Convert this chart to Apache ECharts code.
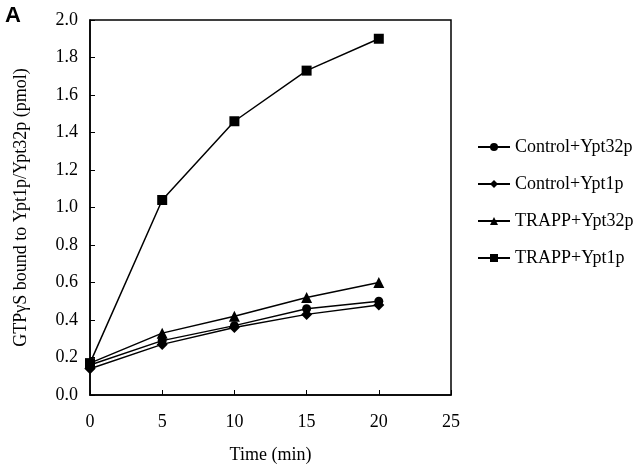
<!DOCTYPE html>
<html>
<head>
<meta charset="utf-8">
<script src="https://cdn.jsdelivr.net/npm/echarts@6/dist/echarts.min.js"></script>
<style>
  html, body { margin: 0; padding: 0; background: #fff; }
  #chart { width: 640px; height: 469px; }
</style>
</head>
<body>
<div id="chart"></div>
<script>
const times = [0, 5, 10, 15, 20];
const controlYpt32p = [0.16, 0.29, 0.37, 0.46, 0.50];
const controlYpt1p = [0.14, 0.27, 0.36, 0.43, 0.48];
const trappYpt32p = [0.17, 0.33, 0.42, 0.52, 0.60];
const trappYpt1p = [0.17, 1.04, 1.46, 1.73, 1.90];

const font = "Liberation Serif";

const pairs = (ys) => times.map((t, i) => [t, ys[i]]);

const makeSeries = (name, ys, symbol, size) => ({
  name,
  type: "line",
  data: pairs(ys),
  symbol,
  symbolSize: size,
  showSymbol: true,
  itemStyle: { color: "#000" },
  lineStyle: { color: "#000", width: 1.5 },
});

const chart = echarts.init(document.getElementById("chart"));
chart.setOption({
  animation: false,
  backgroundColor: "#fff",
  graphic: [
    {
      type: "text",
      left: 5,
      top: 5,
      style: { text: "A", font: "bold 22px 'Liberation Sans'", fill: "#000" },
    },
  ],
  grid: {
    left: 90,
    right: 189,
    top: 20,
    bottom: 71,
    show: true,
    borderColor: "#000",
    borderWidth: 1.5,
  },
  legend: {
    orient: "vertical",
    left: 472,
    top: 133,
    itemWidth: 32,
    itemHeight: 10,
    itemGap: 19,
    itemStyle: { borderWidth: 0 },
    textStyle: { fontFamily: font, fontSize: 18, color: "#000" },
    data: ["Control+Ypt32p", "Control+Ypt1p", "TRAPP+Ypt32p", "TRAPP+Ypt1p"],
  },
  xAxis: {
    type: "value",
    min: 0,
    max: 25,
    interval: 5,
    name: "Time (min)",
    nameLocation: "middle",
    nameGap: 51,
    nameTextStyle: { fontFamily: font, fontSize: 18, color: "#000" },
    axisLine: { lineStyle: { color: "#000", width: 1.5 } },
    axisTick: { inside: true, length: 5, lineStyle: { color: "#000" } },
    axisLabel: { fontFamily: font, fontSize: 18, color: "#000", margin: 18 },
    splitLine: { show: false },
  },
  yAxis: {
    type: "value",
    min: 0,
    max: 2,
    interval: 0.2,
    name: "GTPγS bound to Ypt1p/Ypt32p (pmol)",
    nameLocation: "middle",
    nameGap: 60,
    nameTextStyle: { fontFamily: font, fontSize: 18, color: "#000" },
    axisLine: { lineStyle: { color: "#000", width: 1.5 } },
    axisTick: { inside: true, length: 5, lineStyle: { color: "#000" } },
    axisLabel: {
      fontFamily: font,
      fontSize: 18,
      color: "#000",
      margin: 12,
      formatter: (v) => v.toFixed(1),
    },
    splitLine: { show: false },
  },
  series: [
    makeSeries("Control+Ypt32p", controlYpt32p, "circle", 9),
    makeSeries("Control+Ypt1p", controlYpt1p, "diamond", 11),
    makeSeries("TRAPP+Ypt32p", trappYpt32p, "triangle", 11),
    makeSeries("TRAPP+Ypt1p", trappYpt1p, "rect", 10),
  ],
});
</script>
</body>
</html>
